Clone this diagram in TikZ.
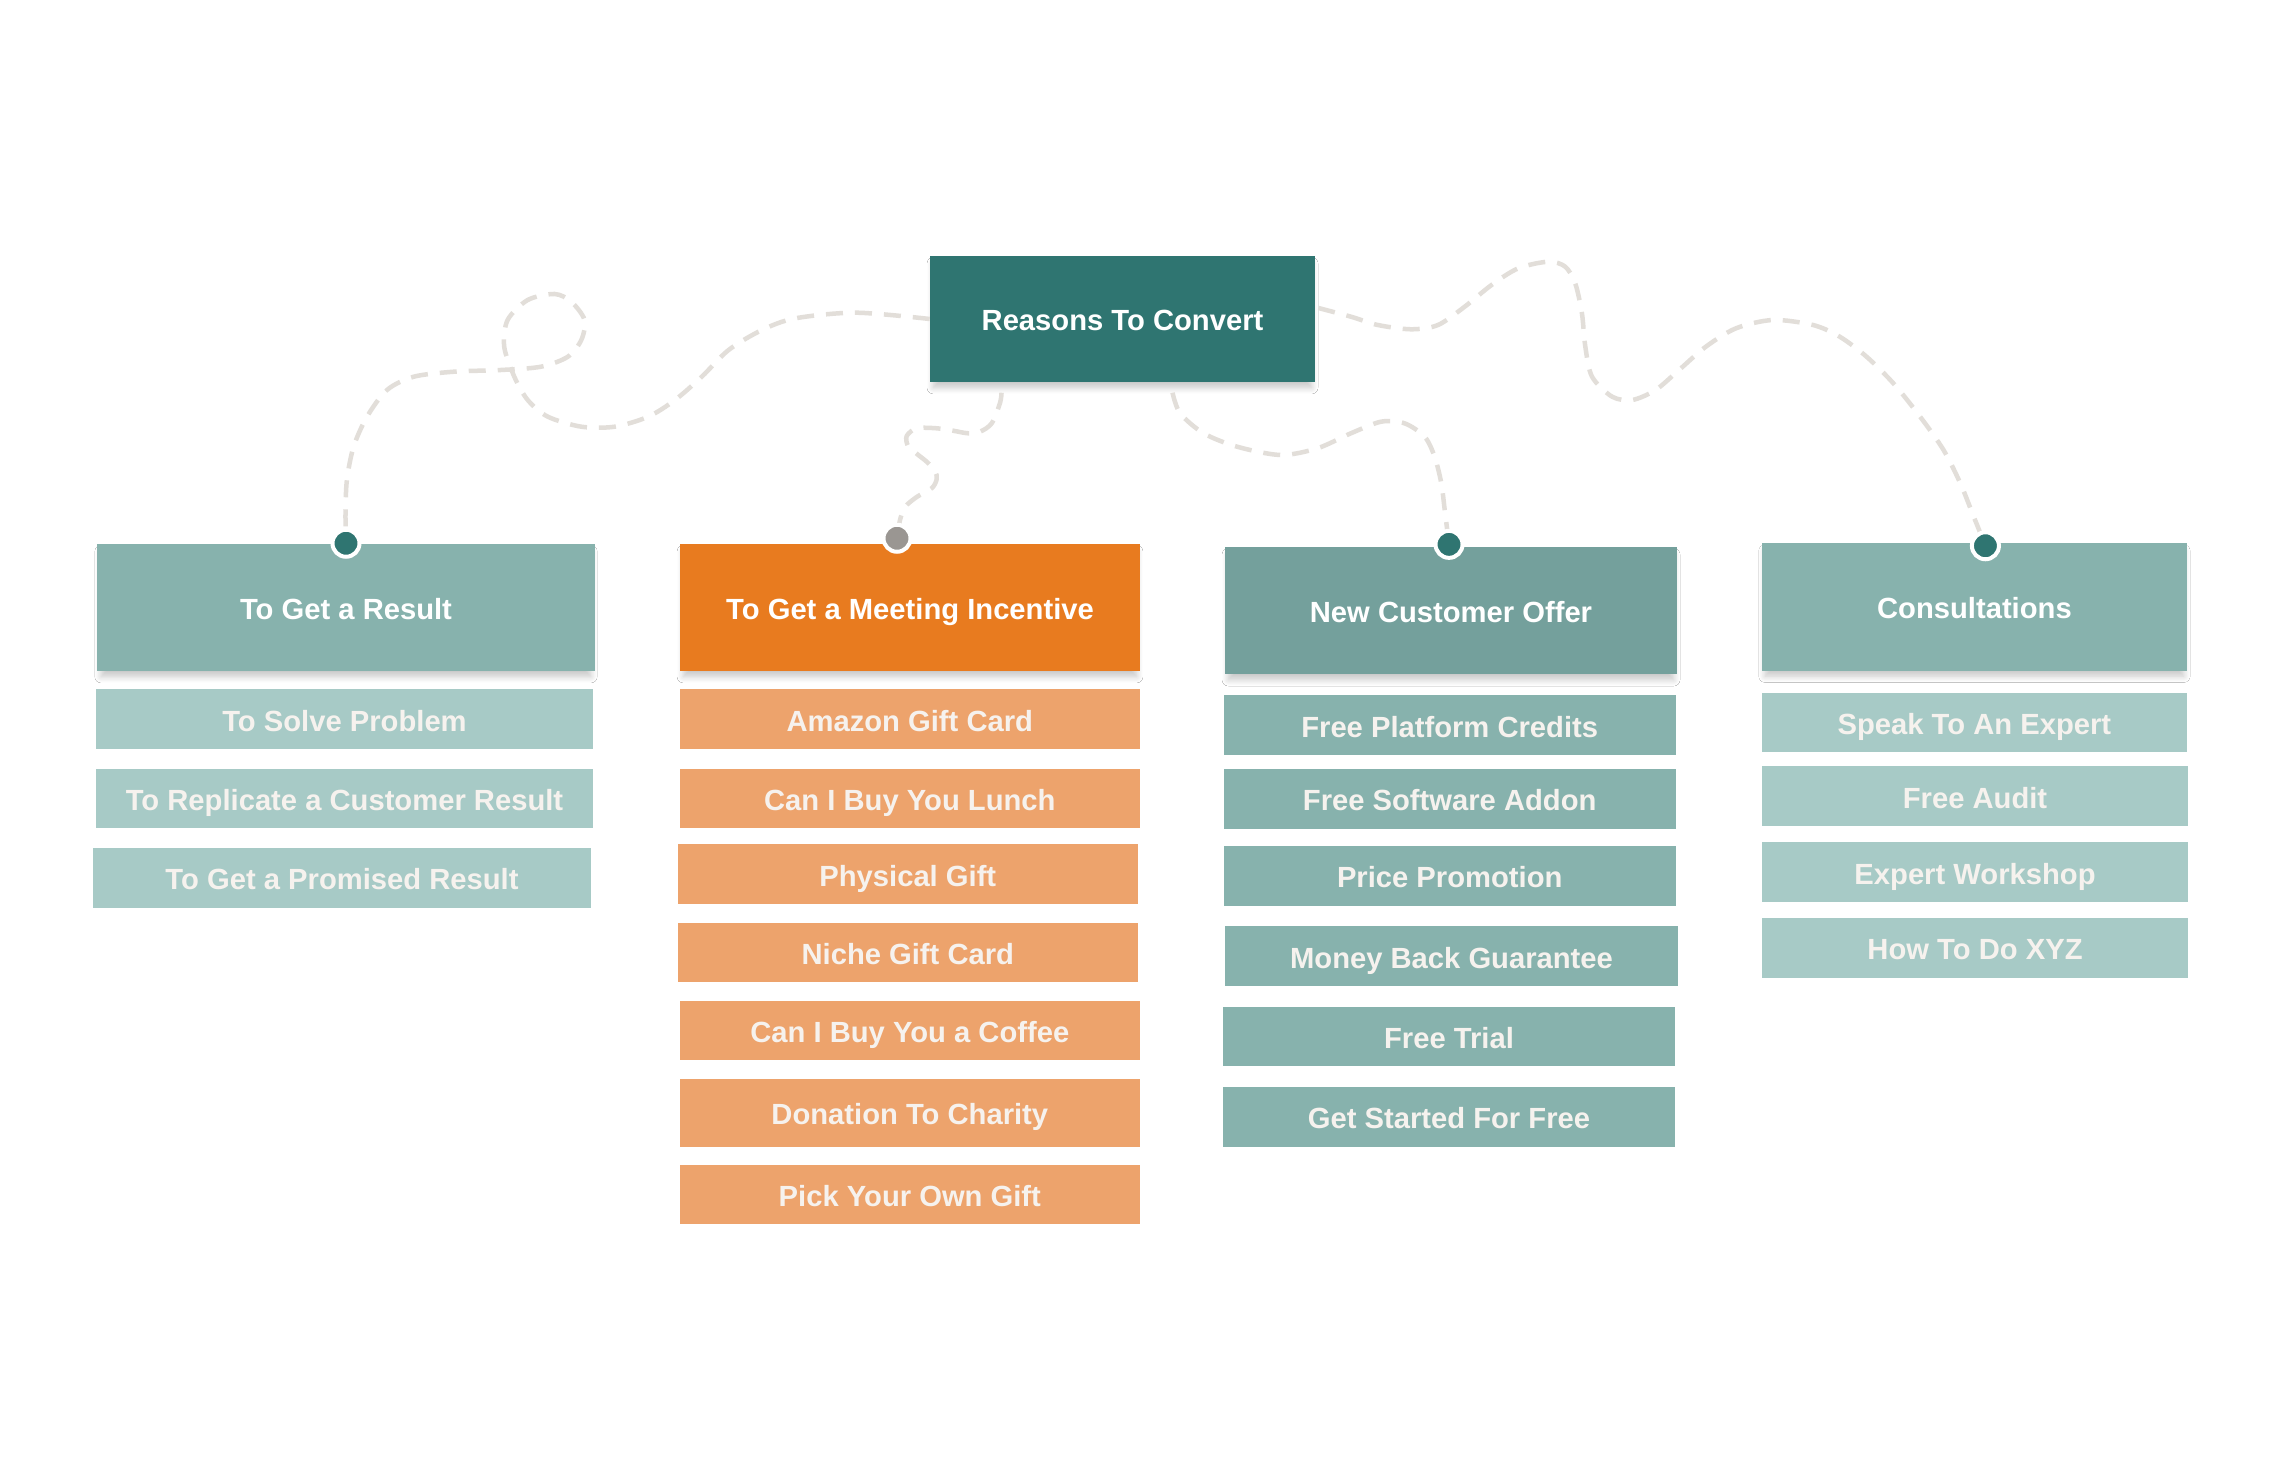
\documentclass[tikz,border=0pt]{standalone}
\usepackage{fontspec}
\setmainfont{Liberation Sans}
\usepackage{tikz}
\usetikzlibrary{positioning,calc,shadows.blur}
\definecolor{convteal}{HTML}{2F7571}
\definecolor{headsage}{HTML}{87B2AD}
\definecolor{itemsage}{HTML}{A7CAC6}
\definecolor{headslate}{HTML}{74A09C}
\definecolor{headorange}{HTML}{E87B1F}
\definecolor{itemorange}{HTML}{EDA36C}
\definecolor{dotgray}{HTML}{9A9692}
\definecolor{trailgray}{HTML}{E2DED9}
\definecolor{itemtext}{HTML}{F6F2EE}
\tikzset{
  boxfont/.style={font=\bfseries\fontsize{8.3}{9.5}\selectfont,
    text height=0.68em, text depth=0pt},
  cardshadow/.style={blur shadow={shadow xshift=0pt, shadow yshift=-1.9pt,
    shadow blur radius=1.8pt, shadow blur steps=8, shadow scale=0.985,
    shadow opacity=22}},
  rootbox/.style={rectangle, boxfont, text=white, fill=convteal, inner sep=0pt,
    minimum width=3.84cm, minimum height=1.26cm, cardshadow},
  headbox/.style={rectangle, boxfont, text=white, inner sep=0pt,
    minimum height=1.27cm, cardshadow},
  itembox/.style={rectangle, boxfont, text=itemtext, inner sep=0pt,
    minimum height=0.595cm},
  colA/.style={minimum width=4.97cm},
  colB/.style={minimum width=4.60cm},
  colC/.style={minimum width=4.52cm},
  colD/.style={minimum width=4.25cm},
  pindot/.style={circle, draw=white, line width=0.04cm, fill=convteal,
    minimum size=0.27cm, inner sep=0pt},
  trail/.style={draw=trailgray, line width=0.045cm,
    dash pattern=on 0.17cm off 0.12cm},
}

\begin{document}
\begin{tikzpicture}[x=0.01cm, y=-0.01cm]
\fill[white] (0,0) rectangle (2280,1480);
% root and the four reasons
\node[rootbox] (root) at (1122.5,319) {Reasons To Convert};
\node[headbox, colA, fill=headsage] (hA) at (346,607.5) {To Get a Result};
\node[headbox, colB, fill=headorange] (hB) at (910,607.5) {To Get a Meeting Incentive};
\node[headbox, colC, fill=headslate] (hC) at (1451,610.6) {New Customer Offer};
\node[headbox, colD, fill=headsage] (hD) at (1974.4,607) {Consultations};
% result
\node[itembox, colA, fill=itemsage] (a1) at (344.5,719.2) {To Solve Problem};
\node[itembox, colA, fill=itemsage] (a2) at (344.5,798.7) {To Replicate a Customer Result};
\node[itembox, colA, fill=itemsage] (a3) at (342,878) {To Get a Promised Result};
% meeting incentive
\node[itembox, colB, fill=itemorange] (b1) at (909.8,719.1) {Amazon Gift Card};
\node[itembox, colB, fill=itemorange] (b2) at (909.8,798.5) {Can I Buy You Lunch};
\node[itembox, colB, fill=itemorange] (b3) at (907.8,874.2) {Physical Gift};
\node[itembox, colB, fill=itemorange] (b4) at (907.8,952.6) {Niche Gift Card};
\node[itembox, colB, fill=itemorange] (b5) at (909.8,1030.7) {Can I Buy You a Coffee};
\node[itembox, colB, fill=itemorange, minimum height=0.67cm] (b6) at (909.8,1113) {Donation To Charity};
\node[itembox, colB, fill=itemorange] (b7) at (909.8,1194.5) {Pick Your Own Gift};
% new customer offer
\node[itembox, colC, fill=headsage] (c1) at (1449.7,725.1) {Free Platform Credits};
\node[itembox, colC, fill=headsage] (c2) at (1449.7,798.8) {Free Software Addon};
\node[itembox, colC, fill=headsage] (c3) at (1449.7,876) {Price Promotion};
\node[itembox, colC, fill=headsage] (c4) at (1451.5,956.1) {Money Back Guarantee};
\node[itembox, colC, fill=headsage] (c5) at (1449,1036.5) {Free Trial};
\node[itembox, colC, fill=headsage] (c6) at (1449,1116.8) {Get Started For Free};
% consultations
\node[itembox, colD, fill=itemsage] (d1) at (1974.4,722.5) {Speak To An Expert};
\node[itembox, colD, fill=itemsage] (d2) at (1975,796.2) {Free Audit};
\node[itembox, colD, fill=itemsage] (d3) at (1975,872.2) {Expert Workshop};
\node[itembox, colD, fill=itemsage] (d4) at (1975,948) {How To Do XYZ};
% pins on the reason cards
\coordinate (pA) at (hA.north);
\coordinate (pB) at ($(hB.north)+(-13,-5)$);
\coordinate (pC) at ($(hC.north)+(-2,-2)$);
\coordinate (pD) at ($(hD.north)+(11,3)$);
% dashed trails from the root
\draw[trail] plot[smooth] coordinates {(root.west) (856,312.7) (795.5,318.3)
  (762,330) (728.6,350) (701.8,376.7) (675,400) (648.2,416.7) (614.7,426.7)
  (581.3,426.7) (547.8,416.7) (527.7,400) (514.3,376.7) (504.2,346.7)
  (507.6,320) (527.7,300) (554.5,294) (571.2,301.7) (584.6,320) (581.3,340)
  (567.9,356.7) (541.1,366.7) (500.9,370) (454,371.7) (413.8,376.7) (387,390)
  (367,416.7) (353.6,446.7) (346.9,480) (345.5,513.3) (pA)};
\draw[trail] plot[smooth] coordinates {($(root.south)+(-121,10)$) (1000,403)
  (991.7,423.3) (980,431.7) (968,433.3) (953,430.7) (936.7,428.3) (916.7,428.3)
  (906.7,436) (908,446) (917,454) (927,462) (935,471) (936.7,479) (932,488)
  (916.7,497) (905,507) (900,520) (pB)};
\draw[trail] plot[smooth] coordinates {($(root.south)+(50,10)$) (1180.1,413.3)
  (1203.6,433.3) (1237.1,446.7) (1280.6,455) (1317.4,448.3) (1350.9,433.3)
  (1381,421.7) (1404.5,423.3) (1424.6,436.7) (1434.6,456.7) (1441.3,483.3)
  (1444.7,510) (pC)};
\draw[trail] plot[smooth] coordinates {($(root.east)+(3,-11)$) (1350.9,316.7)
  (1377.7,325) (1411.2,329.3) (1438,325) (1464.7,306.7) (1491.5,285)
  (1518.3,268.3) (1548.4,261.7) (1565.2,266.7) (1575.2,283.3) (1581.9,313.3)
  (1585.3,346.7) (1592,376.7) (1612.1,396.7) (1632.2,400) (1655.6,390)
  (1679,370) (1705.8,346.7) (1736,328.3) (1772.8,320) (1813,325) (1839.7,336.7)
  (1866.5,356.7) (1893.3,383.3) (1920.1,416.7) (1943.5,450) (1960.3,483.3)
  (1973.7,516.7) (pD)};
\node[pindot] (dA) at (pA) {};
\node[pindot, fill=dotgray] (dB) at (pB) {};
\node[pindot] (dC) at (pC) {};
\node[pindot] (dD) at (pD) {};
\end{tikzpicture}
\end{document}
